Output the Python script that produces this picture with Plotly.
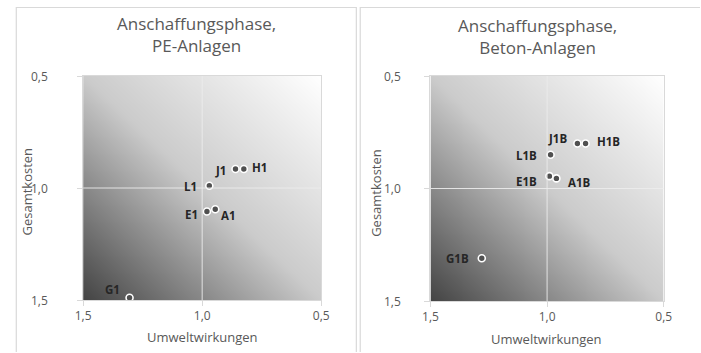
import numpy as np
import plotly.graph_objects as go

# figure kept a hair under the 701x353 page so no scrollbars appear
W, H = 700, 352

# PE-Anlagen (acquisition phase)
pe_labels = ["J1", "H1", "L1", "E1", "A1", "G1"]
pe_umwelt = [0.86, 0.825, 0.97, 0.98, 0.945, 1.305]
pe_kosten = [0.915, 0.915, 0.99, 1.105, 1.095, 1.49]

# Beton-Anlagen (acquisition phase)
beton_labels = ["J1B", "H1B", "L1B", "E1B", "A1B", "G1B"]
beton_umwelt = [0.87, 0.835, 0.985, 0.99, 0.96, 1.28]
beton_kosten = [0.80, 0.80, 0.85, 0.945, 0.955, 1.31]

tick_vals = [0.5, 1.0, 1.5]
titles = ["Anschaffungsphase,<br>PE-Anlagen", "Anschaffungsphase,<br>Beton-Anlagen"]
x_title = "Umweltwirkungen"
y_title = "Gesamtkosten"

# label nudges (dx, dy in pixels, dy downward) relative to each marker
pe_nudge = [(-15, 2), (16, -1), (-19, 1), (-15, 3), (13, 6), (-17, -8)]
beton_nudge = [(-20, -5), (23, -2), (-24, 1), (-23, 5), (23, 4), (-24, 0)]

FONT = "Open Sans"
GREY_TXT = "#595959"
LINE = "#d9d9d9"


def px_x(p):
    """pixel -> paper fraction (x)"""
    return p / W


def px_y(p):
    """pixel -> paper fraction (y)"""
    return 1 - p / H


def fmt(v):
    return f"{v:.1f}".replace(".", ",")


fig = go.Figure()

# diagonal grey gradient behind each plot area
g = np.linspace(0.5, 1.5, 80)
GX, GY = np.meshgrid(g, g)
GZ = ((GX - 0.5) + (GY - 0.5)) / 2.0
grad_scale = [[0.0, "#ffffff"], [0.5, "#cbcbcb"], [1.0, "#444444"]]

for xa, ya in [("x", "y"), ("x2", "y2")]:
    fig.add_trace(go.Heatmap(
        x=g, y=g, z=GZ, colorscale=grad_scale, zmin=0, zmax=1,
        zsmooth="best", showscale=False, hoverinfo="skip",
        xaxis=xa, yaxis=ya,
    ))

marker_style = dict(size=7, color="#505050", line=dict(color="#ffffff", width=1.6))

fig.add_trace(go.Scatter(
    x=pe_umwelt, y=pe_kosten, text=pe_labels, mode="markers",
    marker=marker_style, xaxis="x", yaxis="y", showlegend=False, cliponaxis=False,
))
fig.add_trace(go.Scatter(
    x=beton_umwelt, y=beton_kosten, text=beton_labels, mode="markers",
    marker=marker_style, xaxis="x2", yaxis="y2", showlegend=False, cliponaxis=False,
))

axis_common = dict(
    range=[1.5, 0.5], tickvals=tick_vals, tickformat=".1f",
    showgrid=False, zeroline=False, showline=True, linecolor=LINE, linewidth=1,
    mirror=True, ticks="outside", ticklen=5, tickcolor=LINE,
    tickfont=dict(family=FONT, size=12, color=GREY_TXT),
)

# plot-area rectangles in pixels: (left, right, top, bottom)
areas = [(77, 321, 76, 300), (433, 672, 76, 301)]

fig.update_layout(
    width=W, height=H, margin=dict(l=0, r=0, t=0, b=0),
    paper_bgcolor="#ffffff", plot_bgcolor="#ffffff",
    separators=",.",
    xaxis=dict(axis_common, domain=[px_x(areas[0][0]), px_x(areas[0][1])], anchor="y"),
    yaxis=dict(axis_common, domain=[px_y(areas[0][3]), px_y(areas[0][2])], anchor="x",
               showticklabels=False),
    xaxis2=dict(axis_common, domain=[px_x(areas[1][0]), px_x(areas[1][1])], anchor="y2"),
    yaxis2=dict(axis_common, domain=[px_y(areas[1][3]), px_y(areas[1][2])], anchor="x2",
                showticklabels=False),
    font=dict(family=FONT, color=GREY_TXT),
)

shapes = []
# crosshair at 1,0 in both panels
for xa, ya in [("x", "y"), ("x2", "y2")]:
    shapes.append(dict(type="line", xref=xa, yref=ya, x0=1.0, x1=1.0, y0=0.5, y1=1.5,
                       line=dict(color="rgba(236,236,236,0.9)", width=1), layer="above"))
    shapes.append(dict(type="line", xref=xa, yref=ya, x0=0.5, x1=1.5, y0=1.0, y1=1.0,
                       line=dict(color="rgba(236,236,236,0.9)", width=1), layer="above"))

# chart frames
for (l, r) in [(8.5, 357), (361, 720)]:
    shapes.append(dict(type="rect", xref="paper", yref="paper",
                       x0=px_x(l), x1=px_x(r), y0=px_y(380), y1=px_y(7.5),
                       line=dict(color=LINE, width=1.2), fillcolor="rgba(0,0,0,0)",
                       layer="below"))
fig.update_layout(shapes=shapes)

annotations = []
label_font = dict(family=FONT, size=11.5, color="#262626", weight="bold")
for xa, ya, xs, ys, labs, nudges in [
    ("x", "y", pe_umwelt, pe_kosten, pe_labels, pe_nudge),
    ("x2", "y2", beton_umwelt, beton_kosten, beton_labels, beton_nudge),
]:
    for xv, yv, lab, (dx, dy) in zip(xs, ys, labs, nudges):
        annotations.append(dict(text=lab, xref=xa, yref=ya, x=xv, y=yv, showarrow=False,
                                xanchor="center", yanchor="middle", xshift=dx, yshift=-dy,
                                font=label_font))

# y tick labels, set well away from the axis line
for ya, right_px in [("y", 43), ("y2", 405)]:
    for v in tick_vals:
        annotations.append(dict(text=fmt(v), xref="paper", yref=ya, x=px_x(right_px), y=v,
                                showarrow=False, xanchor="right", yanchor="middle",
                                font=dict(family=FONT, size=12, color=GREY_TXT)))

title_pos = [(193, 35), (543, 36)]
for t, (cx, cy) in zip(titles, title_pos):
    annotations.append(dict(text=t, xref="paper", yref="paper", x=px_x(cx), y=px_y(cy),
                            showarrow=False, xanchor="center", yanchor="middle",
                            font=dict(family=FONT, size=17, color=GREY_TXT)))
for cx, cy in [(199, 337), (552, 339)]:
    annotations.append(dict(text=x_title, xref="paper", yref="paper", x=px_x(cx), y=px_y(cy),
                            showarrow=False, xanchor="center", yanchor="middle",
                            font=dict(family=FONT, size=13, color=GREY_TXT)))
for cx, cy in [(19, 192), (377, 193)]:
    annotations.append(dict(text=y_title, xref="paper", yref="paper", x=px_x(cx), y=px_y(cy),
                            showarrow=False, xanchor="center", yanchor="middle", textangle=-90,
                            font=dict(family=FONT, size=13, color=GREY_TXT)))
fig.update_layout(annotations=annotations)

fig.write_html("out.html")
